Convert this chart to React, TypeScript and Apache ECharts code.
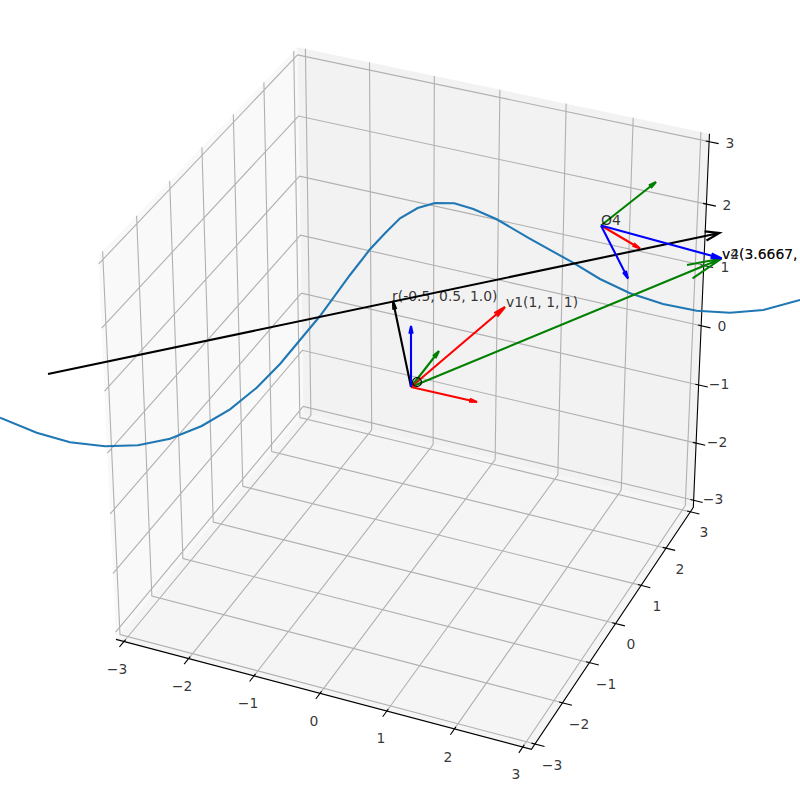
import React, { useEffect, useRef } from "react";
import * as echarts from "echarts";

// --- values ---
const tickValues = [-3, -2, -1, 0, 1, 2, 3];
const tickTexts = ["\u22123", "\u22122", "\u22121", "0", "1", "2", "3"];
const xTickLabelX = [117, 182, 248, 314, 381, 448, 516];
const xTickLabelY = [669, 686, 703, 721, 738, 757, 774];
const yTickLabelX = [552, 579, 606, 631, 657, 680, 704];
const yTickLabelY = [765, 724, 684, 644, 606, 569, 532];
const zTickLabelX = [713, 717, 719, 722, 725, 727, 730];
const zTickLabelY = [499, 442, 384, 326, 267, 205, 143];

const curveX = [0, 36.7, 70, 105, 138, 170, 201.7, 230, 256.7, 280, 300, 320, 350, 370, 385, 400, 417.7, 435, 454.3, 473.3, 496.7, 529.3, 573, 600, 630, 663, 696.7, 730, 763.3, 800];
const curveY = [417.7, 432.7, 442.3, 446.3, 445.3, 438.7, 426, 409.3, 387.7, 364, 340, 316, 275, 249.3, 233.3, 218.3, 208, 203, 203.3, 209, 219.3, 238.3, 262.7, 279, 293.3, 304, 310.7, 312.7, 310, 300];

// arrows: x0, y0, x1, y1 in the plot's view plane
const redArrows = [[411, 387, 505, 307], [411, 387, 477, 402], [601, 225.5, 640, 248.5]];
const greenArrows = [[411, 387, 439, 351], [601, 225.5, 656, 182], [411, 387, 721.7, 258.5]];
const blueArrows = [[411, 387, 411, 326], [601, 225.5, 628, 278.5], [601, 225.5, 721.7, 258.5]];
const blackArrows = [[411, 387, 393, 301]];
const longBlackArrow = [[48, 374, 719.5, 233]];
const originMarker = [[417, 382]];

const annotationTexts = ["v1(1, 1, 1)", "r(-0.5, 0.5, 1.0)", "O4", "v2(3.6667,", "v4(3.6667,"];
const annotationX = [506, 392, 601, 722, 722];
const annotationY = [309, 303, 227, 260.5, 260.5];

// --- view of the 3D box ---
const ELEV = (33 * Math.PI) / 180;
const AZIM = (-66.5 * Math.PI) / 180;
const SCALE = 4330;
const CX = 411;
const CY = 388;
const L = 3.125;

function project(x: number, y: number, z: number): number[] {
  const p = [x / 6, y / 6, z / 6];
  const w = [Math.cos(ELEV) * Math.cos(AZIM), Math.cos(ELEV) * Math.sin(AZIM), Math.sin(ELEV)];
  const u = [-Math.sin(AZIM), Math.cos(AZIM), 0];
  const v = [-Math.sin(ELEV) * Math.cos(AZIM), -Math.sin(ELEV) * Math.sin(AZIM), Math.cos(ELEV)];
  const dot = (a: number[], b: number[]) => a[0] * b[0] + a[1] * b[1] + a[2] * b[2];
  const d = 10 - dot(p, w);
  return [CX + (SCALE * dot(p, u)) / d, CY - (SCALE * dot(p, v)) / d];
}

const GAP: any = [null, null];

function gridPath(): any[] {
  const out: any[] = [];
  for (const t of tickValues) {
    out.push(project(t, -L, -L), project(t, L, -L), project(t, L, L), GAP);
    out.push(project(L, t, -L), project(-L, t, -L), project(-L, t, L), GAP);
    out.push(project(L, L, t), project(-L, L, t), project(-L, -L, t), GAP);
  }
  return out;
}

function tickPath(): any[] {
  const out: any[] = [];
  const o = 0.14;
  const i = 0.05;
  for (const t of tickValues) {
    out.push(project(t, -L - o, -L), project(t, -L + i, -L), GAP);
    out.push(project(L + o, t, -L), project(L - i, t, -L), GAP);
    out.push(project(L + o, L, t), project(L - i, L, t), GAP);
  }
  return out;
}

function arrowPath(list: number[][], ratio: number, fixedLen: number, angleDeg: number): any[] {
  const out: any[] = [];
  for (const [x0, y0, x1, y1] of list) {
    const len = Math.hypot(x1 - x0, y1 - y0);
    const base = Math.atan2(y0 - y1, x0 - x1);
    const h = fixedLen || Math.max(len * ratio, 8);
    const a = (angleDeg * Math.PI) / 180;
    out.push([x0, y0], [x1, y1], GAP);
    out.push(
      [x1 + h * Math.cos(base + a), y1 + h * Math.sin(base + a)],
      [x1, y1],
      [x1 + h * Math.cos(base - a), y1 + h * Math.sin(base - a)],
      GAP
    );
  }
  return out;
}

const paneCorners = [
  { fill: "#f9f9f9", pts: [[-L, -L, -L], [-L, L, -L], [-L, L, L], [-L, -L, L]] },
  { fill: "#f2f2f2", pts: [[-L, L, -L], [L, L, -L], [L, L, L], [-L, L, L]] },
  { fill: "#f5f5f5", pts: [[-L, -L, -L], [L, -L, -L], [L, L, -L], [-L, L, -L]] },
];

const FONT = "DejaVu Sans";
const FS = 13.9;

function pathSeries(data: any[], color: string, width: number, z: number) {
  return {
    type: "line",
    data,
    symbol: "none",
    silent: true,
    connectNulls: false,
    clip: false,
    z,
    lineStyle: { color, width, cap: "butt", join: "miter" },
  };
}

function textSeries(data: any[], align: string, vAlign: string, z: number) {
  return {
    type: "scatter",
    data,
    symbolSize: 0,
    silent: true,
    clip: false,
    z,
    label: {
      show: true,
      position: "inside",
      align,
      verticalAlign: vAlign,
      fontFamily: FONT,
      fontSize: FS,
      color: "#000000",
      textBorderWidth: 0,
      textBorderColor: "transparent",
      formatter: (p: any) => p.data[2],
    },
  };
}

export default function App() {
  const ref = useRef<HTMLDivElement>(null);
  useEffect(() => {
    document.body.style.margin = "0";
    const chart = echarts.init(ref.current!, null, { renderer: "svg" });
    const tickLabelData = [
      ...tickTexts.map((t, i) => [xTickLabelX[i], xTickLabelY[i], t]),
      ...tickTexts.map((t, i) => [yTickLabelX[i], yTickLabelY[i], t]),
      ...tickTexts.map((t, i) => [zTickLabelX[i], zTickLabelY[i], t]),
    ];
    const annotationData = annotationTexts.map((t, i) => [annotationX[i], annotationY[i], t]);
    chart.setOption({
      animation: false,
      backgroundColor: "#ffffff",
      grid: { left: 0, top: 0, right: 0, bottom: 0 },
      xAxis: { type: "value", min: 0, max: 800, show: false },
      yAxis: { type: "value", min: 0, max: 796, inverse: true, show: false },
      series: [
        {
          type: "custom",
          silent: true,
          clip: false,
          z: 1,
          data: paneCorners.map((_, i) => [i, i]),
          renderItem: (params: any, api: any) => {
            const pane = paneCorners[params.dataIndex];
            return {
              type: "polygon",
              shape: { points: pane.pts.map((c) => api.coord(project(c[0], c[1], c[2]))) },
              style: { fill: pane.fill, stroke: "none" },
            };
          },
        },
        pathSeries(gridPath(), "#b0b0b0", 1.1, 2),
        pathSeries(
          [project(-L, -L, -L), project(L, -L, -L), project(L, L, -L), project(L, L, L)],
          "#000",
          1.1,
          3
        ),
        pathSeries(tickPath(), "#000", 1.1, 3),
        textSeries(tickLabelData, "center", "middle", 4),
        pathSeries(curveX.map((x, i) => [x, curveY[i]]), "#1f77b4", 2.1, 5),
        {
          type: "custom",
          silent: true,
          clip: false,
          z: 9,
          data: originMarker,
          renderItem: (_params: any, api: any) => {
            const c = api.coord([api.value(0), api.value(1)]);
            return {
              type: "circle",
              shape: { cx: c[0], cy: c[1], r: 4.5 },
              style: { fill: "rgba(0,128,0,0.3)", stroke: "#000000", lineWidth: 1.1 },
            };
          },
        },
        pathSeries(arrowPath(greenArrows, 0.105, 0, 12), "#008000", 2.1, 6),
        pathSeries(arrowPath(redArrows, 0.1, 0, 11), "#ff0000", 2.1, 6),
        pathSeries(arrowPath(blackArrows, 0.1, 0, 10), "#000", 2.1, 7),
        pathSeries(arrowPath(longBlackArrow, 0, 15, 18), "#000", 2.1, 7),
        pathSeries(arrowPath(blueArrows, 0.09, 0, 12), "#0000ff", 2.1, 8),
        textSeries(annotationData, "left", "bottom", 9),
      ],
    });
    return () => chart.dispose();
  }, []);
  return <div ref={ref} style={{ width: 800, height: 796 }} />;
}
